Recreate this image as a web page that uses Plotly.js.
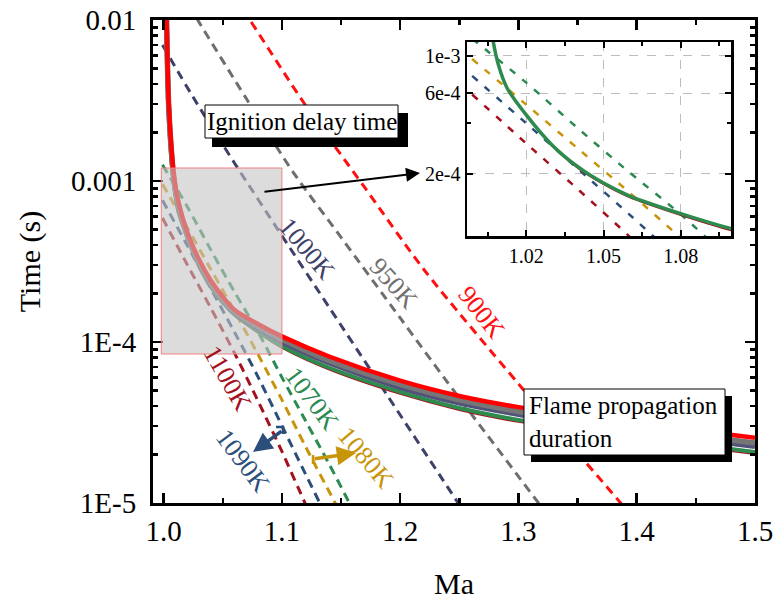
<!DOCTYPE html>
<html>
<head>
<meta charset="utf-8">
<script src="https://cdn.plot.ly/plotly-3.0.1.min.js"></script>
<style>html,body{margin:0;padding:0;background:#fff;}#chart{width:774px;height:601px;}</style>
</head>
<body>
<div id="chart"></div>
<script>
// ---- Flame propagation duration (solid lines) ----
const maFlame = [1.002, 1.0025, 1.0042, 1.0072, 1.0093, 1.0125, 1.02, 1.03, 1.04, 1.05, 1.06, 1.08, 1.10, 1.14, 1.20, 1.25, 1.30, 1.40, 1.50];
const flame900 = [0.0158, 0.0100, 0.00316, 0.00141, 0.00100, 0.000741, 0.000479, 0.000324, 0.000240, 0.000191, 0.000158, 0.000129, 0.0001084, 8.13e-5, 5.75e-5, 4.62e-5, 3.94e-5, 3.13e-5, 2.54e-5];
const flame950 = [0.0158, 0.00955, 0.00302, 0.00133, 0.000955, 0.000708, 0.000466, 0.000313, 0.000232, 0.000185, 0.000155, 0.0001245, 0.000104, 7.67e-5, 5.46e-5, 4.37e-5, 3.70e-5, 2.92e-5, 2.36e-5];
const flame1000 = [0.0158, 0.00933, 0.00292, 0.00129, 0.000923, 0.000684, 0.000457, 0.000305, 0.000226, 0.000181, 0.000152, 0.0001208, 0.0001000, 7.41e-5, 5.21e-5, 4.17e-5, 3.55e-5, 2.78e-5, 2.24e-5];
const flame1070 = [0.0158, 0.00891, 0.00282, 0.00121, 0.000871, 0.000646, 0.000446, 0.000296, 0.000220, 0.000176, 0.000148, 0.0001161, 9.42e-5, 6.92e-5, 4.90e-5, 3.89e-5, 3.28e-5, 2.57e-5, 2.07e-5];
const flame1100 = [0.0158, 0.00871, 0.00275, 0.00119, 0.000861, 0.000638, 0.000440, 0.000292, 0.000216, 0.000173, 0.000145, 0.0001135, 9.18e-5, 6.73e-5, 4.75e-5, 3.77e-5, 3.18e-5, 2.48e-5, 2.01e-5];

// ---- Ignition delay time (dashed lines) ----
const ma900 = [1.06, 1.0729, 1.12, 1.17, 1.22, 1.30, 1.3864, 1.40];
const ign900 = [0.0138, 0.0100, 0.00295, 0.000912, 0.000282, 5.50e-5, 1.00e-5, 7.6e-6];
const ma950 = [1.015, 1.0288, 1.07, 1.11, 1.15, 1.20, 1.24, 1.3169, 1.33];
const ign950 = [0.0148, 0.0100, 0.00324, 0.00112, 0.000447, 0.000141, 5.62e-5, 1.00e-5, 7.41e-6];
const ma1000 = [0.999, 1.025, 1.06, 1.10, 1.14, 1.18, 1.249, 1.26];
const ign1000 = [0.0070, 0.00331, 0.00129, 0.000457, 0.000164, 5.89e-5, 1.0e-5, 7.6e-6];
const ma1070 = [0.999, 1.02, 1.04, 1.06, 1.08, 1.10, 1.12, 1.14, 1.157, 1.165];
const ign1070 = [0.00126, 0.000692, 0.000372, 0.000204, 0.0001148, 6.03e-5, 3.24e-5, 1.74e-5, 1.00e-5, 7.6e-6];
const ma1080 = [0.999, 1.02, 1.04, 1.06, 1.08, 1.10, 1.12, 1.145, 1.155];
const ign1080 = [0.000955, 0.000513, 0.000282, 0.000155, 8.32e-5, 4.37e-5, 2.24e-5, 1.0e-5, 7.2e-6];
const ma1090 = [0.999, 1.02, 1.04, 1.06, 1.08, 1.10, 1.12, 1.132, 1.14];
const ign1090 = [0.000759, 0.000398, 0.000214, 0.0001148, 6.03e-5, 3.02e-5, 1.51e-5, 1.0e-5, 7.6e-6];
const ma1100 = [0.999, 1.02, 1.04, 1.06, 1.08, 1.10, 1.1195, 1.127];
const ign1100 = [0.000589, 0.000302, 0.000162, 8.51e-5, 4.27e-5, 2.09e-5, 1.0e-5, 7.6e-6];

// ---- tick labels ----
const yTickVals = [1e-5, 1e-4, 1e-3, 1e-2];
const yTickText = ['1E-5', '1E-4', '0.001', '0.01'];
const yMinorVals = [2e-5,3e-5,4e-5,5e-5,6e-5,7e-5,8e-5,9e-5,2e-4,3e-4,4e-4,5e-4,6e-4,7e-4,8e-4,9e-4,2e-3,3e-3,4e-3,5e-3,6e-3,7e-3,8e-3,9e-3];
const insetXTickVals = [1.02, 1.05, 1.08];
const insetXTickText = ['1.02', '1.05', '1.08'];
const insetYTickVals = [1e-3, 6e-4, 2e-4];
const insetYTickText = ['1e-3', '6e-4', '2e-4'];
const insetYMinorVals = [4e-4];
const tempLabels = ['900K', '950K', '1000K', '1070K', '1080K', '1090K', '1100K'];

const C = {
  t900: '#ff1010', t950: '#6e6e6e', t1000: '#3d4068',
  t1070: '#2a8a52', t1080: '#c8940a', t1090: '#2b4f7a', t1100: '#a4101e'
};
const FONT = "'Liberation Serif', 'Times New Roman', Times, serif";

function dashed(x, y, color, xa, ya, inset) {
  return {x: x, y: y, xaxis: xa, yaxis: ya, mode: 'lines', type: 'scatter', hoverinfo: 'skip', showlegend: false,
    line: {color: color, width: inset ? 2.5 : 3, dash: inset ? '7px,9px' : '9px,6px', shape: 'spline', smoothing: 0.8}};
}
function solid(y, color, w, xa, ya) {
  return {x: maFlame, y: y, xaxis: xa, yaxis: ya, mode: 'lines', type: 'scatter', hoverinfo: 'skip', showlegend: false,
    line: {color: color, width: w, shape: 'spline', smoothing: 0.8}};
}

const traces = [
  dashed(ma900, ign900, C.t900, 'x', 'y'),
  dashed(ma950, ign950, C.t950, 'x', 'y'),
  dashed(ma1000, ign1000, C.t1000, 'x', 'y'),
  dashed(ma1070, ign1070, C.t1070, 'x', 'y'),
  dashed(ma1080, ign1080, C.t1080, 'x', 'y'),
  dashed(ma1090, ign1090, C.t1090, 'x', 'y'),
  dashed(ma1100, ign1100, C.t1100, 'x', 'y'),
  solid(flame1100, C.t1100, 1.5, 'x', 'y'),
  solid(flame1070, '#2e8b4e', 4, 'x', 'y'),
  solid(flame1000, '#50527a', 5, 'x', 'y'),
  solid(flame950, '#767676', 5.5, 'x', 'y'),
  solid(flame900, '#ff0000', 4.5, 'x', 'y'),
  // inset
  dashed(ma1070, ign1070, C.t1070, 'x2', 'y2', true),
  dashed(ma1080, ign1080, C.t1080, 'x2', 'y2', true),
  dashed(ma1090, ign1090, C.t1090, 'x2', 'y2', true),
  dashed(ma1100, ign1100, C.t1100, 'x2', 'y2', true),
  solid(flame1100, C.t1100, 1.5, 'x2', 'y2'),
  solid(flame1070, '#2e8b4e', 3.5, 'x2', 'y2')
];

// pixel -> paper helpers for layout decorations
const L = 153, R = 755, T = 20, B = 503;
const px = v => (v - L) / (R - L);
const py = v => (B - v) / (B - T);

function tlabel(text, xPix, yPix, angle, color) {
  return {text: text, xref: 'paper', yref: 'paper', x: px(xPix), y: py(yPix), showarrow: false,
    textangle: angle, font: {family: FONT, size: 26, color: color}, xanchor: 'center', yanchor: 'middle'};
}

const layout = {
  width: 774, height: 601,
  margin: {l: L, r: 774 - R, t: T, b: 601 - B},
  paper_bgcolor: '#fff', plot_bgcolor: '#fff',
  font: {family: FONT, size: 28, color: '#000'},
  showlegend: false,
  xaxis: {
    range: [0.991, 1.5], tick0: 1.0, dtick: 0.1, tickformat: '.1f',
    ticks: 'inside', ticklen: 10, tickwidth: 2.5, tickcolor: '#000',
    showline: true, linewidth: 3, linecolor: '#000', mirror: 'ticks',
    showgrid: false, zeroline: false,
    minor: {dtick: 0.05, tick0: 1.0, ticks: 'inside', ticklen: 5, tickwidth: 2.5, tickcolor: '#000', showgrid: false},
    tickfont: {family: FONT, size: 29, color: '#000'},
    ticklabelstandoff: 0,
    title: {text: 'Ma', font: {family: FONT, size: 30, color: '#000'}, standoff: 28}
  },
  yaxis: {
    type: 'log', range: [-5, -2],
    tickmode: 'array', tickvals: yTickVals, ticktext: yTickText,
    ticks: 'inside', ticklen: 10, tickwidth: 2.5, tickcolor: '#000',
    showline: true, linewidth: 3, linecolor: '#000', mirror: 'ticks',
    showgrid: false, zeroline: false,
    minor: {tickmode: 'array', tickvals: yMinorVals, ticks: 'inside', ticklen: 5, tickwidth: 2.5, tickcolor: '#000', showgrid: false},
    tickfont: {family: FONT, size: 29, color: '#000'},
    ticklabelstandoff: 8,
    title: {text: 'Time (s)', font: {family: FONT, size: 30, color: '#000'}, standoff: 22}
  },
  xaxis2: {
    domain: [px(467), px(731)], anchor: 'y2',
    range: [0.997, 1.0995],
    tickmode: 'array', tickvals: insetXTickVals, ticktext: insetXTickText,
    ticks: 'inside', ticklen: 6, tickwidth: 2, tickcolor: '#000',
    showline: true, linewidth: 2.5, linecolor: '#000', mirror: 'ticks',
    showgrid: true, gridcolor: '#bdbdbd', gridwidth: 1, griddash: 'dash', zeroline: false,
    minor: {tickmode: 'array', tickvals: [1.005, 1.035, 1.065, 1.095], ticks: 'inside', ticklen: 4, tickwidth: 2, tickcolor: '#000', showgrid: false},
    tickfont: {family: FONT, size: 20, color: '#000'}
  },
  yaxis2: {
    domain: [py(236), py(42)], anchor: 'x2', type: 'log',
    range: [-4.068, -2.919],
    tickmode: 'array', tickvals: insetYTickVals, ticktext: insetYTickText,
    ticks: 'inside', ticklen: 6, tickwidth: 2, tickcolor: '#000',
    showline: true, linewidth: 2.5, linecolor: '#000', mirror: 'ticks',
    showgrid: true, gridcolor: '#bdbdbd', gridwidth: 1, griddash: 'dash', zeroline: false,
    minor: {tickmode: 'array', tickvals: insetYMinorVals, ticks: 'inside', ticklen: 4, tickwidth: 2, tickcolor: '#000', showgrid: false},
    tickfont: {family: FONT, size: 20, color: '#000'}
  },
  shapes: [
    // zoom region box
    {type: 'rect', xref: 'x', yref: 'paper', x0: 0.998, x1: 1.1, y0: py(354), y1: py(168),
      fillcolor: 'rgba(196,196,196,0.6)', line: {color: '#f08080', width: 1}, layer: 'above'},
    // Ignition delay time box (shadow + box)
    {type: 'rect', xref: 'paper', yref: 'paper', x0: px(212), x1: px(408), y0: py(147), y1: py(113),
      fillcolor: '#000', line: {width: 0}, layer: 'above'},
    {type: 'rect', xref: 'paper', yref: 'paper', x0: px(205), x1: px(398), y0: py(138), y1: py(105),
      fillcolor: '#fff', line: {color: '#000', width: 1}, layer: 'above'},
    // Flame propagation duration box (shadow + box)
    {type: 'rect', xref: 'paper', yref: 'paper', x0: px(531), x1: px(732), y0: py(462), y1: py(396),
      fillcolor: '#000', line: {width: 0}, layer: 'above'},
    {type: 'rect', xref: 'paper', yref: 'paper', x0: px(524), x1: px(725), y0: py(455), y1: py(389),
      fillcolor: '#fff', line: {color: '#000', width: 1}, layer: 'above'},
    // bracket marks for arrows
    {type: 'path', xref: 'paper', yref: 'paper',
      path: 'M ' + px(276) + ' ' + py(427) + ' L ' + px(283) + ' ' + py(427) + ' L ' + px(283) + ' ' + py(434),
      line: {color: C.t1090, width: 2.5}, layer: 'above'},
    {type: 'line', xref: 'paper', yref: 'paper', x0: px(313), x1: px(313), y0: py(455), y1: py(464),
      line: {color: C.t1080, width: 2.5}, layer: 'above'}
  ],
  annotations: [
    {text: 'Ignition delay time', xref: 'paper', yref: 'paper', x: px(301.5), y: py(121.5), showarrow: false,
      font: {family: FONT, size: 25, color: '#000'}, xanchor: 'center', yanchor: 'middle'},
    {text: 'Flame propagation<br>duration', xref: 'paper', yref: 'paper', x: px(527), y: py(422), showarrow: false,
      align: 'left', font: {family: FONT, size: 25, color: '#000'}, xanchor: 'left', yanchor: 'middle'},
    // arrow to inset
    {text: '', xref: 'paper', yref: 'paper', x: px(420), y: py(173), ax: -157, ay: 19, showarrow: true,
      arrowhead: 2, arrowsize: 1.4, arrowwidth: 2, arrowcolor: '#000'},
    // 1090K arrow
    {text: '', xref: 'paper', yref: 'paper', x: px(253), y: py(452), ax: 30, ay: -22, showarrow: true,
      arrowhead: 2, arrowsize: 1.1, arrowwidth: 3.5, arrowcolor: C.t1090},
    // 1080K arrow
    {text: '', xref: 'paper', yref: 'paper', x: px(356), y: py(453), ax: -43, ay: 6, showarrow: true,
      arrowhead: 2, arrowsize: 1.1, arrowwidth: 3.5, arrowcolor: C.t1080},
    tlabel(tempLabels[0], 482, 312, 52, C.t900),
    tlabel(tempLabels[1], 394, 283, 48, '#707070'),
    tlabel(tempLabels[2], 307, 248, 50, C.t1000),
    tlabel(tempLabels[3], 312, 398, 53, C.t1070),
    tlabel(tempLabels[4], 366, 457, 50, C.t1080),
    tlabel(tempLabels[5], 243, 460, 53, C.t1090),
    tlabel(tempLabels[6], 228, 378, 60, C.t1100)
  ]
};

Plotly.newPlot('chart', traces, layout, {staticPlot: true, displayModeBar: false});
</script>
</body>
</html>
